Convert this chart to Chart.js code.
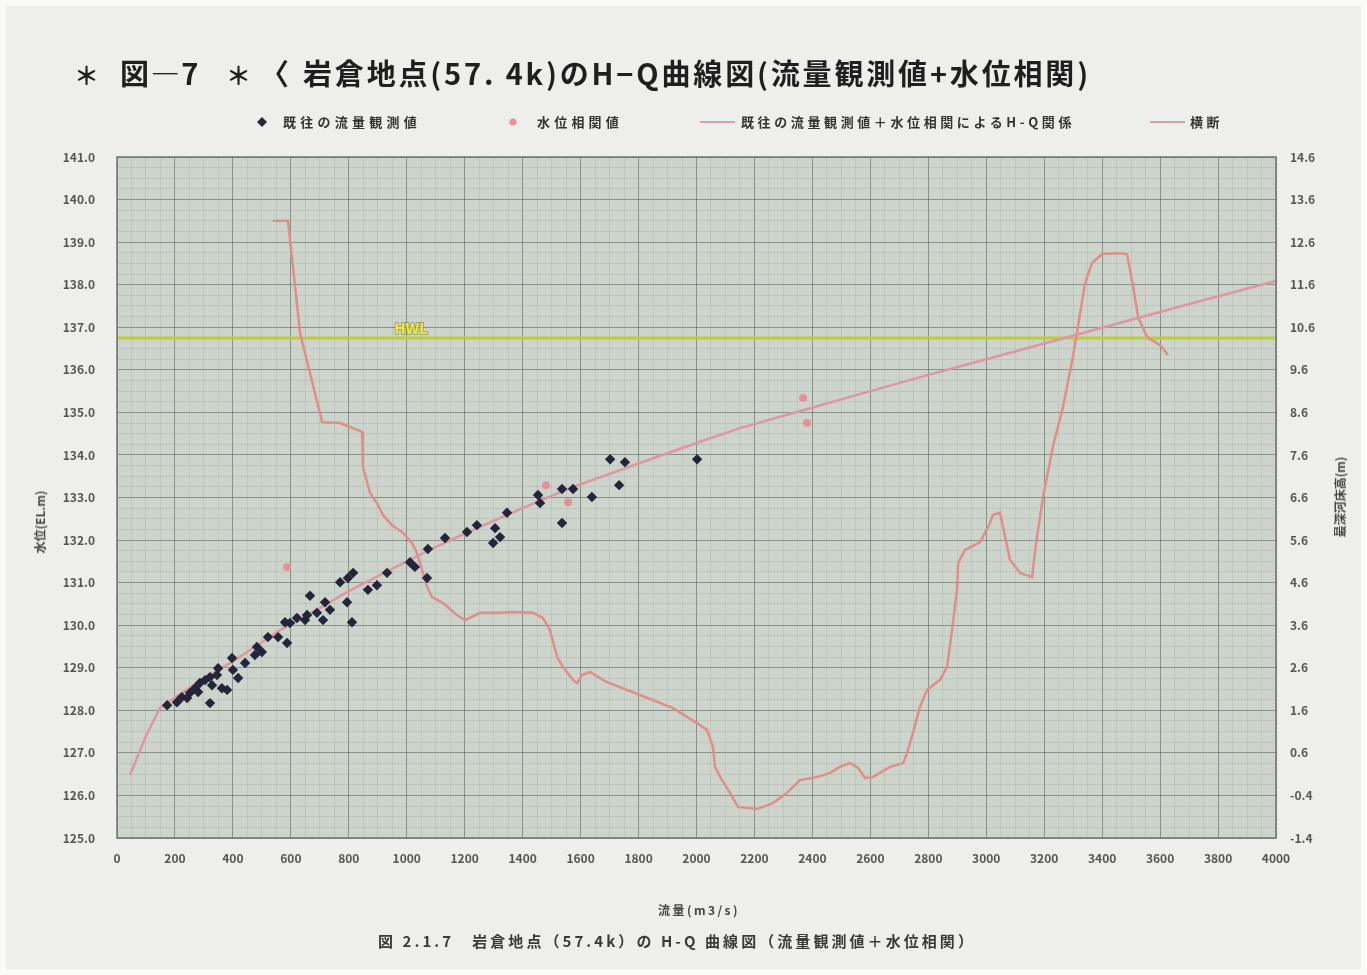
<!DOCTYPE html>
<html lang="ja">
<head>
<meta charset="utf-8">
<title>岩倉地点(57.4k)のH-Q曲線図</title>
<script src="https://cdn.jsdelivr.net/npm/chart.js@4/dist/chart.umd.min.js"></script>
<style>
  html, body { margin: 0; padding: 0; }
  body {
    width: 1367px; height: 975px; position: relative; overflow: hidden;
    background: #eeeeec;
    font-family: "Noto Sans CJK JP", "Noto Sans", sans-serif; color: #2b2b2b;
  }
  #frame { position: absolute; left: 0; top: 0; width: 1367px; height: 975px;
           box-sizing: border-box; border: 6px solid #fafaf9; pointer-events: none; }
  canvas { position: absolute; left: 0; top: 0; }
  .t { position: absolute; white-space: nowrap; line-height: 1; }
  .title { font-size: 29px; font-weight: 700; color: #1f1f1f; top: 58px; }
  .leg { font-size: 13px; font-weight: 700; color: #333; top: 115px; }
  .legline { position: absolute; height: 0; border-top: 2px solid; top: 121px; }
  .axt { font-size: 12px; font-weight: 700; color: #444; }
  .cap { font-size: 15px; font-weight: 700; color: #3a3a3a; top: 933px; }
</style>
</head>
<body>
<canvas id="c" width="1367" height="975"></canvas>

<div class="t title" style="left:74px;font-size:25px;top:62px">＊</div>
<div class="t title" style="left:120px" data-w="80">図—7</div>
<div class="t title" style="left:226px;font-size:25px;top:62px">＊</div>
<div class="t title" style="left:260px">〈</div>
<div class="t title" style="left:303px" data-w="788">岩倉地点(57. 4k)のH−Q曲線図(流量観測値+水位相関)</div>

<svg style="position:absolute;left:256px;top:116px" width="12" height="12"><polygon points="6,1 11,6 6,11 1,6" fill="#26273a"/></svg>
<div class="t leg" style="left:283px" data-w="138">既往の流量観測値</div>
<svg style="position:absolute;left:508px;top:117px" width="10" height="10"><circle cx="5" cy="5" r="3.5" fill="#e88f9b"/></svg>
<div class="t leg" style="left:537px" data-w="86">水位相関値</div>
<div class="legline" style="left:700px;width:35px;border-color:#d8a2a8"></div>
<div class="t leg" style="left:741px" data-w="334">既往の流量観測値＋水位相関によるH-Q関係</div>
<div class="legline" style="left:1150px;width:35px;border-color:#d6a296"></div>
<div class="t leg" style="left:1190px" data-w="33">横断</div>

<div class="t axt" style="left:40px;top:522px;transform:translate(-50%,-50%) rotate(-90deg)">水位(EL.m)</div>
<div class="t axt" style="left:1340px;top:497px;transform:translate(-50%,-50%) rotate(-90deg)">最深河床高(m)</div>
<div class="t axt" style="left:658px;top:904px" data-w="82">流量(m3/s)</div>
<div class="t cap" style="left:378px" data-w="598">図 2.1.7　岩倉地点（57.4k）の H-Q 曲線図（流量観測値＋水位相関）</div>

<div id="frame"></div>

<script>
// ---- 既往の流量観測値 (流量 m3/s, 水位 EL.m)
const obsQ = [173, 207, 224, 242, 252, 269, 286, 280, 304, 321, 328, 345, 349, 362, 380, 321,
  397, 400, 418, 442, 476, 483, 500, 521, 556, 587, 580, 597, 621, 649, 656, 666, 690, 711,
  718, 735, 770, 794, 811, 815, 797, 866, 897, 932, 1011, 1028, 1070, 1073, 1132, 1208,
  1242, 1305, 1322, 1298, 1346, 1453, 1460, 1536, 1574, 1536, 1639, 1702, 1753, 1733, 2002];
const obsH = [128.12, 128.19, 128.31, 128.29, 128.41, 128.52, 128.64, 128.43, 128.71, 128.78,
  128.59, 128.83, 128.99, 128.52, 128.48, 128.17, 129.23, 128.95, 128.76, 129.11, 129.30,
  129.49, 129.37, 129.72, 129.72, 129.58, 130.07, 130.05, 130.17, 130.12, 130.24, 130.69,
  130.29, 130.12, 130.54, 130.36, 131.01, 130.54, 130.07, 131.23, 131.11, 130.83, 130.94,
  131.23, 131.48, 131.37, 131.11, 131.79, 132.05, 132.19, 132.35, 132.28, 132.07, 131.93,
  132.64, 133.06, 132.87, 133.20, 133.20, 132.40, 133.01, 133.90, 133.83, 133.29, 133.90];

// ---- 水位相関値
const corrQ = [587, 1481, 1557, 2368, 2381];
const corrH = [131.37, 133.29, 132.89, 135.34, 134.75];

// ---- 既往の流量観測値＋水位相関によるH-Q関係
const curveQ = [45, 100, 148, 200, 300, 400, 500, 563, 700, 800, 900, 1000, 1073, 1200, 1400,
  1563, 1800, 2000, 2150, 2374, 2600, 2800, 3000, 3200, 3400, 3600, 3800, 4000];
const curveH = [126.48, 127.40, 128.05, 128.30, 128.75, 129.15, 129.60, 129.89, 130.40, 130.80,
  131.15, 131.50, 131.75, 132.15, 132.75, 133.22, 133.80, 134.28, 134.63, 135.06, 135.50,
  135.88, 136.25, 136.62, 136.99, 137.36, 137.73, 138.09];

// ---- 横断 (右軸, m)
const sectionX = [538, 590, 632, 708, 770, 846, 849, 873, 897, 918, 949, 987, 1018, 1035, 1053,
  1070, 1087, 1125, 1173, 1201, 1253, 1311, 1367, 1436, 1470, 1494, 1519, 1539, 1574, 1588,
  1605, 1632, 1691, 1805, 1919, 2002, 2036, 2057, 2064, 2088, 2116, 2143, 2209, 2264, 2312,
  2357, 2416, 2461, 2495, 2530, 2557, 2582, 2609, 2668, 2713, 2727, 2747, 2771, 2796, 2840,
  2865, 2882, 2899, 2903, 2927, 2979, 3013, 3023, 3047, 3058, 3082, 3117, 3158, 3168, 3175,
  3196, 3230, 3265, 3299, 3324, 3341, 3365, 3400, 3451, 3486, 3507, 3524, 3555, 3600, 3627];
const sectionZ = [13.10, 13.10, 10.46, 8.37, 8.35, 8.14, 7.32, 6.71, 6.47, 6.19, 5.95, 5.77,
  5.53, 5.30, 4.90, 4.50, 4.26, 4.12, 3.84, 3.72, 3.89, 3.89, 3.91, 3.89, 3.77, 3.49, 2.85,
  2.62, 2.31, 2.24, 2.43, 2.50, 2.26, 1.96, 1.65, 1.30, 1.14, 0.74, 0.27, -0.04, -0.34, -0.67,
  -0.72, -0.58, -0.34, -0.04, 0.03, 0.13, 0.27, 0.36, 0.25, 0.01, 0.03, 0.27, 0.36, 0.60, 1.07,
  1.68, 2.08, 2.31, 2.62, 3.49, 4.43, 5.06, 5.37, 5.55, 6.00, 6.19, 6.24, 5.91, 5.13, 4.83,
  4.73, 5.30, 5.67, 6.61, 7.79, 8.73, 9.90, 10.93, 11.64, 12.11, 12.32, 12.34, 12.32, 11.55,
  10.84, 10.37, 10.18, 9.95];

// ---- HWL
const hwlLevel = 136.75;
const hwlText = 'HWL';
const hwlLabelAt = { q: 1015, h: 136.97 };

// ---- 軸
const qRange = [0, 4000];
const qStep = 200;
const hRange = [125.0, 141.0];
const zRange = [-1.4, 14.6];

const FONT = '"Noto Sans CJK JP", "Noto Sans", sans-serif';
const PLOT_BG = '#ccd4cc';
const MAJOR = 'rgba(70, 80, 72, 0.5)';
const MINOR = 'rgba(100, 112, 102, 0.13)';

const pts = (xs, ys) => xs.map((x, i) => ({ x, y: ys[i] }));
const isWhole = (v, s) => Math.abs(v / s - Math.round(v / s)) < 1e-6;

// plot area fill and frame
const plotFrame = {
  id: 'plotFrame',
  beforeDraw(chart) {
    const { ctx, chartArea: a } = chart;
    ctx.save();
    ctx.fillStyle = PLOT_BG;
    ctx.fillRect(a.left, a.top, a.right - a.left, a.bottom - a.top);
    ctx.restore();
  },
  afterDraw(chart) {
    const { ctx, chartArea: a } = chart;
    ctx.save();
    ctx.strokeStyle = '#6f756f';
    ctx.lineWidth = 1.5;
    ctx.strokeRect(a.left, a.top, a.right - a.left, a.bottom - a.top);
    ctx.restore();
  }
};

// HWL label on the plot
const hwlLabel = {
  id: 'hwlLabel',
  afterDatasetsDraw(chart) {
    const { ctx, scales } = chart;
    const x = scales.x.getPixelForValue(hwlLabelAt.q);
    const y = scales.y.getPixelForValue(hwlLabelAt.h);
    ctx.save();
    ctx.font = '700 15px ' + FONT;
    ctx.textAlign = 'center';
    ctx.textBaseline = 'middle';
    ctx.lineWidth = 2;
    ctx.strokeStyle = 'rgba(120, 125, 40, 0.55)';
    ctx.strokeText(hwlText, x, y);
    ctx.fillStyle = '#eeea40';
    ctx.fillText(hwlText, x, y);
    ctx.restore();
  }
};

const tickFont = { family: FONT, size: 12, weight: '600' };

new Chart(document.getElementById('c'), {
  type: 'scatter',
  data: {
    datasets: [
      { label: '既往の流量観測値', data: pts(obsQ, obsH), pointStyle: 'rectRot', pointRadius: 5.2,
        backgroundColor: '#24253a', borderColor: '#24253a', borderWidth: 0, order: 0 },
      { label: '水位相関値', data: pts(corrQ, corrH), pointStyle: 'circle', pointRadius: 4,
        backgroundColor: '#e88f9b', borderWidth: 0, order: 1 },
      { label: '既往の流量観測値＋水位相関によるH-Q関係', data: pts(curveQ, curveH), showLine: true,
        borderColor: '#de97a1', borderWidth: 2.5, pointRadius: 0, order: 2 },
      { label: '横断', data: pts(sectionX, sectionZ), yAxisID: 'y2', showLine: true,
        borderColor: '#df8f88', borderWidth: 2.5, pointRadius: 0, order: 3 },
      { label: 'HWL', data: pts(qRange, [hwlLevel, hwlLevel]), showLine: true,
        borderColor: '#bccb3a', borderWidth: 3, pointRadius: 0, order: 4 }
    ]
  },
  options: {
    responsive: false,
    animation: false,
    events: [],
    layout: { padding: { left: 37, right: 21, top: 157, bottom: 77 } },
    plugins: { legend: { display: false }, tooltip: { enabled: false } },
    scales: {
      x: {
        type: 'linear', position: 'bottom', min: qRange[0], max: qRange[1],
        ticks: { stepSize: qStep, color: '#555', font: tickFont, padding: 13, maxRotation: 0,
                 autoSkip: false, callback: v => String(v) },
        grid: { color: MAJOR, drawTicks: false }, border: { display: false },
        afterFit: s => { s.height = 60; }
      },
      xm: {
        type: 'linear', position: 'bottom', min: qRange[0], max: qRange[1],
        ticks: { display: false, stepSize: 50 },
        grid: { color: c => isWhole(c.tick.value, qStep) ? 'rgba(0,0,0,0)' : MINOR, drawTicks: false },
        border: { display: false }, afterFit: s => { s.height = 0; }
      },
      y: {
        type: 'linear', position: 'left', min: hRange[0], max: hRange[1],
        ticks: { stepSize: 1, color: '#555', font: tickFont, padding: 22, callback: v => v.toFixed(1) },
        grid: { color: MAJOR, drawTicks: false }, border: { display: false },
        afterFit: s => { s.width = 80; }
      },
      ym: {
        type: 'linear', position: 'left', min: hRange[0], max: hRange[1],
        ticks: { display: false, stepSize: 0.25 },
        grid: { color: c => isWhole(c.tick.value, 1) ? 'rgba(0,0,0,0)' : MINOR, drawTicks: false },
        border: { display: false }, afterFit: s => { s.width = 0; }
      },
      y2: {
        type: 'linear', position: 'right', min: zRange[0], max: zRange[1],
        ticks: { stepSize: 1, color: '#555', font: tickFont, padding: 14, callback: v => v.toFixed(1) },
        grid: { display: false, drawTicks: false }, border: { display: false },
        afterFit: s => { s.width = 70; }
      }
    }
  },
  plugins: [plotFrame, hwlLabel]
});

// spread text to its printed width
document.querySelectorAll('[data-w]').forEach(el => {
  const n = [...el.textContent].length;
  const w = el.getBoundingClientRect().width;
  const target = parseFloat(el.dataset.w);
  el.style.letterSpacing = ((target - w) / n) + 'px';
});
</script>
</body>
</html>
